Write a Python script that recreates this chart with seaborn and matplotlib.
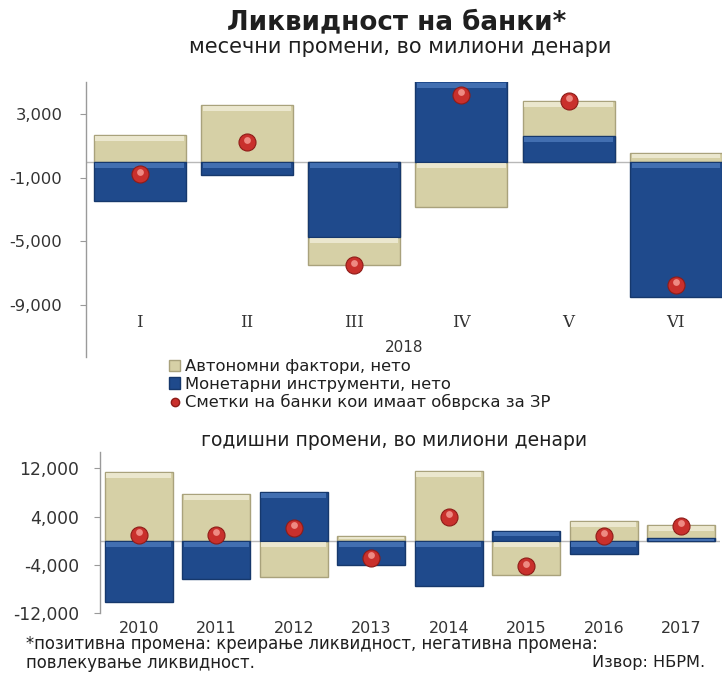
import numpy as np
import pandas as pd
import matplotlib
matplotlib.use("Agg")
import matplotlib.pyplot as plt
from matplotlib.patches import Patch
from matplotlib.lines import Line2D
from matplotlib.ticker import FuncFormatter
import seaborn as sns

# ---- data (millions of denars) ----
months = ["I", "II", "III", "IV", "V", "VI"]
m_autonomous = [1700, 3550, -1770, -2840, 2150, 540]
m_monetary = [-2450, -860, -4710, 5300, 1640, -8460]
m_reserve = [-800, 1230, -6500, 4200, 3830, -7730]

years = ["2010", "2011", "2012", "2013", "2014", "2015", "2016", "2017"]
y_autonomous = [11460, 7700, -6040, 800, 11600, -5760, 3330, 2200]
y_monetary = [-10250, -6300, 8050, -3960, -7600, 1650, -2270, 400]
y_reserve = [980, 980, 2100, -2840, 4000, -4240, 800, 2500]

TAN = "#D6D0A6"
TAN_EDGE = "#A9A27C"
TAN_HI = "#F3F0DC"
BLUE = "#1F4A8C"
BLUE_EDGE = "#16386C"
BLUE_HI = "#4F7CBE"
RED = "#C9302C"
TXT = "#1f1f1f"

sns.set_theme(style="white")
plt.rcParams["font.family"] = ["DejaVu Sans"]

fig = plt.figure(figsize=(7.22, 6.78), dpi=100)
W, H = 722, 678


def px_axes(left, top, right, bottom):
    return fig.add_axes([left / W, 1 - bottom / H, (right - left) / W, (bottom - top) / H])


def stacked(ax, cats, autonomous, monetary, reserve, width, dot_size, units_per_px, ylim):
    auto = np.array(autonomous, float)
    mon = np.array(monetary, float)
    same = np.sign(auto) == np.sign(mon)
    # autonomous factors stack on top of monetary instruments when signs agree
    auto_start = np.where(same, mon, 0.0)
    auto_end = auto_start + auto
    pos = np.arange(len(cats))
    df = pd.DataFrame({"cat": cats, "auto_end": auto_end, "mon": mon, "res": reserve, "pos": pos})
    sns.barplot(data=df, x="cat", y="auto_end", color=TAN, saturation=1, width=width,
                edgecolor=TAN_EDGE, linewidth=1.0, ax=ax, zorder=2)
    sns.barplot(data=df, x="cat", y="mon", color=BLUE, saturation=1, width=width,
                edgecolor=BLUE_EDGE, linewidth=1.0, ax=ax, zorder=3)

    # bevel: lighter band along the upper edge of every visible segment
    band = 5 * units_per_px
    lo_clip, hi_clip = ylim
    for start, end, hi, z in [(auto_start, auto_end, TAN_HI, 3.5), (np.zeros_like(mon), mon, BLUE_HI, 4)]:
        top = np.minimum(np.maximum(start, end), hi_clip)
        seg = np.abs(end - start)
        b = np.minimum(band, seg * 0.45)
        ax.bar(pos, b, bottom=top - b - 1.2 * units_per_px, width=width * 0.96,
               color=hi, alpha=0.75, linewidth=0, zorder=z)

    sns.scatterplot(data=df, x="pos", y="res", color=RED, s=dot_size, edgecolor="#8E1C18",
                    linewidth=0.8, ax=ax, zorder=5, legend=False)
    # small highlight near the top of each sphere
    sns.scatterplot(x=pos, y=np.array(reserve, float) + 2.5 * units_per_px, color="#EE8A82",
                    s=dot_size * 0.16, linewidth=0, ax=ax, zorder=6, legend=False)
    ax.axhline(0, color="#B8B8B8", lw=1.0, zorder=1)
    ax.set_xlabel("")
    ax.set_ylabel("")
    for s in ["top", "right", "bottom"]:
        ax.spines[s].set_visible(False)
    ax.spines["left"].set_color("#9A9A9A")
    ax.spines["left"].set_linewidth(1.0)
    ax.yaxis.set_major_formatter(FuncFormatter(lambda v, p: f"{int(v):,}"))
    ax.grid(False)


# ---- monthly panel ----
ax1 = px_axes(86, 82, 722, 357)
ylim1 = (-12250, 5000)
stacked(ax1, months, m_autonomous, m_monetary, m_reserve, 0.86, 150,
        (ylim1[1] - ylim1[0]) / 275, ylim1)
ax1.set_xlim(-0.5, 5.43)
ax1.set_ylim(*ylim1)
ax1.set_yticks([3000, -1000, -5000, -9000])
ax1.tick_params(axis="y", left=True, length=4, width=0.8, color="#9A9A9A",
                labelsize=11.8, labelcolor="#333333", pad=13)
ax1.tick_params(axis="x", bottom=False, labelsize=12, labelcolor="#333333", pad=-37)
for lab in ax1.get_xticklabels():
    lab.set_fontfamily("DejaVu Serif")
ax1.text(0.5, 0.035, "2018", transform=ax1.transAxes, ha="center", va="center",
         fontsize=11, color="#333333")

# ---- annual panel ----
ax2 = px_axes(100, 452, 720, 613)
ylim2 = (-12000, 14700)
stacked(ax2, years, y_autonomous, y_monetary, y_reserve, 0.88, 150,
        (ylim2[1] - ylim2[0]) / 161, ylim2)
ax2.set_xlim(-0.5, 7.5)
ax2.set_ylim(*ylim2)
ax2.set_yticks([12000, 4000, -4000, -12000])
ax2.tick_params(axis="y", left=True, length=4, width=0.8, color="#9A9A9A",
                labelsize=12.3, labelcolor="#333333", pad=11)
ax2.tick_params(axis="x", bottom=False, labelsize=11.5, labelcolor="#333333", pad=0)

# ---- titles ----
fig.text(397 / W, 1 - 22 / H, "Ликвидност на банки*", ha="center", va="center",
         fontsize=18.8, fontweight="bold", color=TXT)
fig.text(400 / W, 1 - 47 / H, "месечни промени, во милиони денари", ha="center", va="center",
         fontsize=15, color=TXT)
fig.text(394 / W, 1 - 441 / H, "годишни промени, во милиони денари", ha="center", va="center",
         fontsize=13.5, color=TXT)

# ---- legend ----
handles = [
    Patch(facecolor=TAN, edgecolor=TAN_EDGE, label="Автономни фактори, нето"),
    Patch(facecolor=BLUE, edgecolor=BLUE_EDGE, label="Монетарни инструменти, нето"),
    Line2D([], [], marker="o", linestyle="none", markerfacecolor=RED, markeredgecolor="#8E1C18",
           markersize=6, label="Сметки на банки кои имаат обврска за ЗР"),
]
fig.legend(handles=handles, loc="upper left", bbox_to_anchor=(169 / W, 1 - 359 / H),
           frameon=False, fontsize=11.8, handlelength=0.7, handleheight=0.7, handletextpad=0.3,
           labelspacing=0.16, borderpad=0, borderaxespad=0, labelcolor=TXT)

# ---- footnote and source ----
fig.text(26 / W, 1 - 644 / H, "*позитивна промена: креирање ликвидност, негативна промена:",
         ha="left", va="center", fontsize=11.9, color=TXT)
fig.text(26 / W, 1 - 663 / H, "повлекување ликвидност.", ha="left", va="center",
         fontsize=11.9, color=TXT)
fig.text(705 / W, 1 - 663 / H, "Извор: НБРМ.", ha="right", va="center", fontsize=11.6, color=TXT)

fig.savefig("out.png", dpi=100)
